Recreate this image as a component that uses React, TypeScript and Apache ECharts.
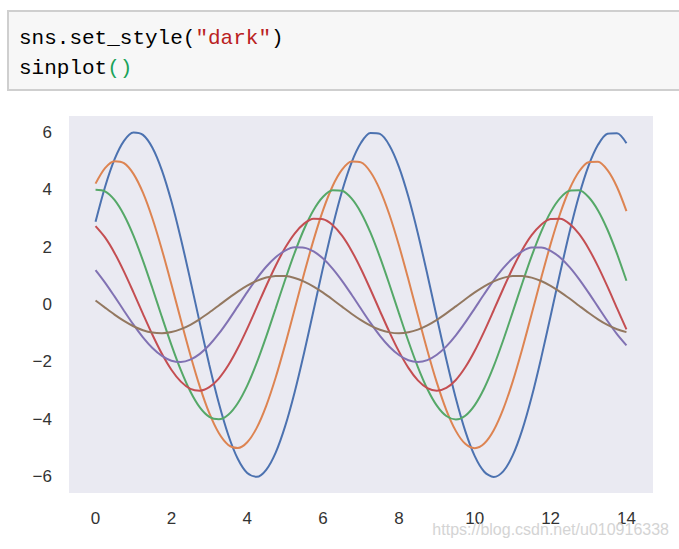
import React, { useEffect, useRef } from "react";
import * as echarts from "echarts";

// x positions (sampled every 0.25 from 0 to 14)
const xValues: number[] = [
  0, 0.25, 0.5, 0.75, 1, 1.25, 1.5, 1.75, 2, 2.25, 2.5, 2.75, 3, 3.25, 3.5, 3.75,
  4, 4.25, 4.5, 4.75, 5, 5.25, 5.5, 5.75, 6, 6.25, 6.5, 6.75, 7, 7.25, 7.5, 7.75,
  8, 8.25, 8.5, 8.75, 9, 9.25, 9.5, 9.75, 10, 10.25, 10.5, 10.75, 11, 11.25, 11.5,
  11.75, 12, 12.25, 12.5, 12.75, 13, 13.25, 13.5, 13.75, 14,
];

const series1: number[] = [
  2.876, 4.09, 5.049, 5.694, 5.985, 5.904, 5.456, 4.669, 3.591, 2.29, 0.847, -0.649,
  -2.105, -3.43, -4.541, -5.37, -5.865, -5.996, -5.753, -5.153, -4.233, -3.05, -1.676,
  -0.199, 1.291, 2.7, 3.942, 4.939, 5.628, 5.968, 5.936, 5.536, 4.791, 3.748, 2.473,
  1.043, -0.451, -1.917, -3.264, -4.408, -5.278, -5.82, -6.0, -5.807, -5.253, -4.372,
  -3.22, -1.867, -0.398, 1.096, 2.521, 3.79, 4.823, 5.556, 5.944, 5.962, 5.609,
];
const series2: number[] = [
  4.207, 4.745, 4.987, 4.92, 4.546, 3.89, 2.992, 1.908, 0.706, -0.541, -1.754, -2.858,
  -3.784, -4.475, -4.887, -4.996, -4.795, -4.294, -3.528, -2.541, -1.397, -0.166,
  1.075, 2.25, 3.285, 4.115, 4.69, 4.973, 4.947, 4.613, 3.992, 3.123, 2.061, 0.869,
  -0.376, -1.598, -2.72, -3.673, -4.398, -4.85, -5.0, -4.839, -4.377, -3.643, -2.683,
  -1.555, -0.332, 0.913, 2.101, 3.158, 4.019, 4.63, 4.953, 4.968, 4.674, 4.09, 3.251,
];
const series3: number[] = [
  3.99, 3.936, 3.637, 3.112, 2.394, 1.527, 0.564, -0.433, -1.403, -2.286, -3.027,
  -3.58, -3.91, -3.997, -3.836, -3.436, -2.822, -2.033, -1.118, -0.133, 0.86, 1.8,
  2.628, 3.292, 3.752, 3.978, 3.958, 3.69, 3.194, 2.499, 1.648, 0.696, -0.301, -1.278,
  -2.176, -2.939, -3.519, -3.88, -4.0, -3.871, -3.502, -2.915, -2.146, -1.244, -0.265,
  0.73, 1.681, 2.526, 3.215, 3.704, 3.962, 3.974, 3.74, 3.272, 2.601, 1.768, 0.826,
];
const series4: number[] = [
  2.728, 2.334, 1.796, 1.145, 0.423, -0.325, -1.052, -1.715, -2.27, -2.685, -2.933,
  -2.998, -2.877, -2.577, -2.117, -1.525, -0.838, -0.1, 0.645, 1.35, 1.971, 2.469,
  2.814, 2.984, 2.968, 2.768, 2.396, 1.874, 1.236, 0.522, -0.226, -0.959, -1.632,
  -2.204, -2.639, -2.91, -3.0, -2.903, -2.627, -2.186, -1.61, -0.933, -0.199, 0.548,
  1.261, 1.895, 2.411, 2.778, 2.972, 2.981, 2.805, 2.454, 1.951, 1.326, 0.62, -0.126,
  -0.864,
];
const series5: number[] = [
  1.197, 0.763, 0.282, -0.216, -0.702, -1.143, -1.514, -1.79, -1.955, -1.999, -1.918,
  -1.718, -1.411, -1.017, -0.559, -0.066, 0.43, 0.9, 1.314, 1.646, 1.876, 1.989, 1.979,
  1.845, 1.597, 1.249, 0.824, 0.348, -0.15, -0.639, -1.088, -1.469, -1.759, -1.94, -2.0,
  -1.936, -1.751, -1.457, -1.073, -0.622, -0.133, 0.365, 0.84, 1.263, 1.608, 1.852,
  1.981, 1.987, 1.87, 1.636, 1.301, 0.884, 0.413, -0.084, -0.576, -1.032, -1.424,
];
const series6: number[] = [
  0.141, -0.108, -0.351, -0.572, -0.757, -0.895, -0.978, -0.999, -0.959, -0.859,
  -0.706, -0.508, -0.279, -0.033, 0.215, 0.45, 0.657, 0.823, 0.938, 0.995,
  0.989, 0.923, 0.799, 0.625, 0.412, 0.174, -0.075, -0.32, -0.544, -0.735,
  -0.88, -0.97, -1.0, -0.968, -0.876, -0.729, -0.537, -0.311, -0.066, 0.183,
  0.42, 0.632, 0.804, 0.926, 0.991, 0.994, 0.935, 0.818, 0.65, 0.442,
  0.207, -0.042, -0.288, -0.516, -0.712, -0.863, -0.961,
];

const xTickLabels: number[] = [0, 2, 4, 6, 8, 10, 12, 14];
const yTickLabels: number[] = [-6, -4, -2, 0, 2, 4, 6];

const codeLine1: { text: string; color: string; col: number }[] = [
  { text: "sns.set_style(", color: "#000000", col: 0 },
  { text: '"dark"', color: "#BA2121", col: 14 },
  { text: ")", color: "#000000", col: 20 },
];
const codeLine2: { text: string; color: string; col: number }[] = [
  { text: "sinplot", color: "#000000", col: 0 },
  { text: "()", color: "#1aa35a", col: 7 },
];

const palette = ["#4C72B0", "#DD8452", "#55A868", "#C44E52", "#8172B3", "#937860"];
const allSeries = [series1, series2, series3, series4, series5, series6];

export default function App() {
  const ref = useRef<HTMLDivElement>(null);
  useEffect(() => {
    if (!ref.current) return;
    const chart = echarts.init(ref.current, null, { renderer: "svg" });
    const labelFont = "Liberation Sans, Arial, sans-serif";
    const monoFont = "Liberation Mono";
    const charW = 12.6;
    const codeText = (line: typeof codeLine1, y: number) =>
      line.map((seg) => ({
        type: "text",
        x: 19 + seg.col * charW,
        y,
        z: 10,
        style: {
          text: seg.text,
          fill: seg.color,
          fontFamily: monoFont,
          fontSize: 21,
          verticalAlign: "middle",
          align: "left",
        },
      }));
    chart.setOption({
      animation: false,
      backgroundColor: "#ffffff",
      grid: {
        left: 69,
        top: 116,
        width: 584,
        height: 377,
        show: true,
        backgroundColor: "#EAEAF2",
        borderWidth: 0,
      },
      xAxis: {
        type: "value",
        min: -0.7,
        max: 14.7,
        axisLine: { show: false },
        axisTick: { show: false },
        splitLine: { show: false },
        axisLabel: {
          customValues: xTickLabels,
          margin: 17,
          color: "#333333",
          fontSize: 17,
          fontFamily: labelFont,
        },
      },
      yAxis: {
        type: "value",
        min: -6.56,
        max: 6.56,
        axisLine: { show: false },
        axisTick: { show: false },
        splitLine: { show: false },
        axisLabel: {
          customValues: yTickLabels,
          margin: 17,
          color: "#333333",
          fontSize: 17,
          fontFamily: labelFont,
          formatter: (v: number) => (v < 0 ? "\u2212" + Math.abs(v) : String(v)),
        },
      },
      series: allSeries.map((vals, i) => ({
        type: "line",
        data: vals.map((y, j) => [xValues[j], y]),
        showSymbol: false,
        smooth: 0.3,
        lineStyle: { color: palette[i], width: 2 },
        itemStyle: { color: palette[i] },
        z: 2 + i,
      })),
      graphic: [
        {
          type: "rect",
          z: 5,
          shape: { x: 8, y: 11, width: 690, height: 79 },
          style: { fill: "#f7f7f7", stroke: "#cfcfcf", lineWidth: 2 },
        },
        ...codeText(codeLine1, 38),
        ...codeText(codeLine2, 68),
        {
          type: "text",
          x: 669,
          y: 529,
          z: 100,
          style: {
            text: "https://blog.csdn.net/u010916338",
            fill: "#d4d4d4",
            fontFamily: labelFont,
            fontSize: 16,
            align: "right",
            verticalAlign: "middle",
          },
        },
      ],
    });
    return () => chart.dispose();
  }, []);
  return (
    <div
      ref={ref}
      style={{ position: "fixed", left: 0, top: 0, width: 679, height: 549 }}
    />
  );
}
